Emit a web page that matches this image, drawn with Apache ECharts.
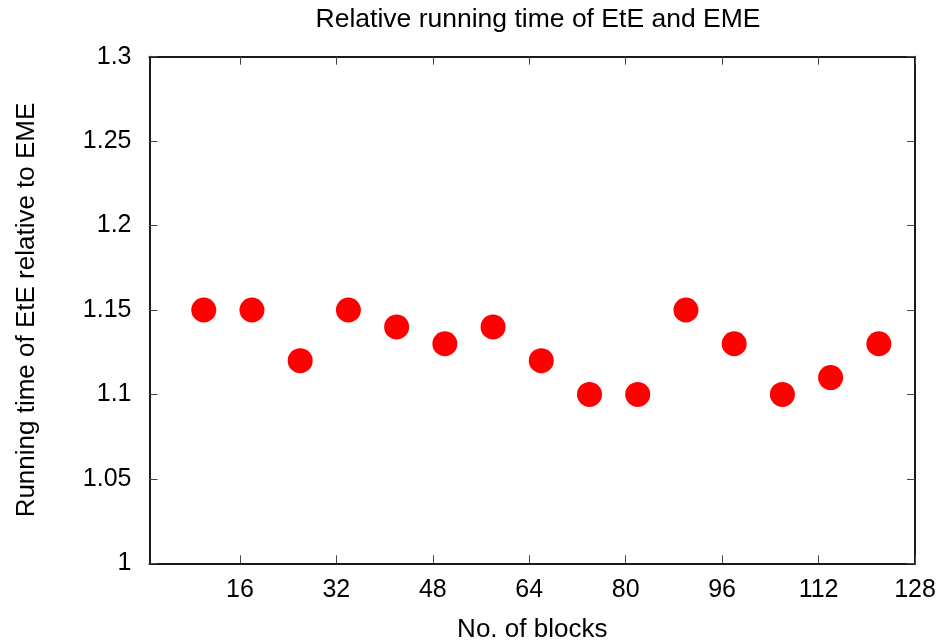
<!DOCTYPE html>
<html>
<head>
<meta charset="utf-8">
<script src="https://cdn.jsdelivr.net/npm/echarts@6/dist/echarts.min.js"></script>
<style>html,body{margin:0;padding:0;background:#fff;}#c{width:944px;height:644px;}</style>
</head>
<body>
<div id="c"></div>
<script>
var blocks = [10, 18, 26, 34, 42, 50, 58, 66, 74, 82, 90, 98, 106, 114, 122];
var relTime = [1.15, 1.15, 1.12, 1.15, 1.14, 1.13, 1.14, 1.12, 1.10, 1.10, 1.15, 1.13, 1.10, 1.11, 1.13];
var xTicks = [16, 32, 48, 64, 80, 96, 112, 128];
var titleText = 'Relative running time of EtE and EME';
var xName = 'No. of blocks';
var yName = 'Running time of EtE relative to EME';

var FONT = 'Liberation Sans';
var chart = echarts.init(document.getElementById('c'));
var pts = blocks.map(function (b, i) { return [b, relTime[i]]; });
var lineStyle = { color: '#1a1a1a', width: 2 };
var tickStyle = { color: '#444', width: 1 };
function fmtY(v) { return String(Math.round(v * 100) / 100); }

chart.setOption({
  animation: false,
  backgroundColor: '#fff',
  title: {
    text: titleText, left: 533, top: 1, textAlign: 'center',
    textStyle: { fontFamily: FONT, fontSize: 26.5, fontWeight: 'normal', color: '#000' }
  },
  grid: { left: 149.5, right: 29, top: 56.7, bottom: 80.7, containLabel: false, outerBoundsMode: 'none' },
  xAxis: [{
    type: 'value', min: 1, max: 128,
    name: xName, nameLocation: 'middle', nameGap: 54,
    nameTextStyle: { fontFamily: FONT, fontSize: 26, color: '#000' },
    axisLine: { show: true, lineStyle: lineStyle },
    axisTick: { show: true, inside: true, length: 8, lineStyle: tickStyle, customValues: xTicks },
    axisLabel: { show: true, margin: 14, fontFamily: FONT, fontSize: 25, color: '#000', customValues: xTicks },
    splitLine: { show: false }
  }, {
    type: 'value', min: 1, max: 128, position: 'top',
    axisLine: { show: true, lineStyle: lineStyle },
    axisTick: { show: true, inside: true, length: 8, lineStyle: tickStyle, customValues: xTicks },
    axisLabel: { show: false },
    splitLine: { show: false }
  }],
  yAxis: [{
    type: 'value', min: 1, max: 1.3, interval: 0.05,
    name: yName, nameLocation: 'middle', nameGap: 110, nameRotate: 90,
    nameTextStyle: { fontFamily: FONT, fontSize: 26, color: '#000' },
    axisLine: { show: true, lineStyle: lineStyle },
    axisTick: { show: true, inside: true, length: 8, lineStyle: tickStyle },
    axisLabel: { show: true, margin: 18, fontFamily: FONT, fontSize: 25, color: '#000', formatter: fmtY },
    splitLine: { show: false }
  }, {
    type: 'value', min: 1, max: 1.3, interval: 0.05, position: 'right',
    axisLine: { show: true, lineStyle: lineStyle },
    axisTick: { show: true, inside: true, length: 8, lineStyle: tickStyle },
    axisLabel: { show: false },
    splitLine: { show: false }
  }],
  series: [{
    type: 'scatter', data: pts, symbol: 'circle', symbolSize: 25,
    itemStyle: { color: '#ff0000', opacity: 1 }
  }]
});
</script>
</body>
</html>
